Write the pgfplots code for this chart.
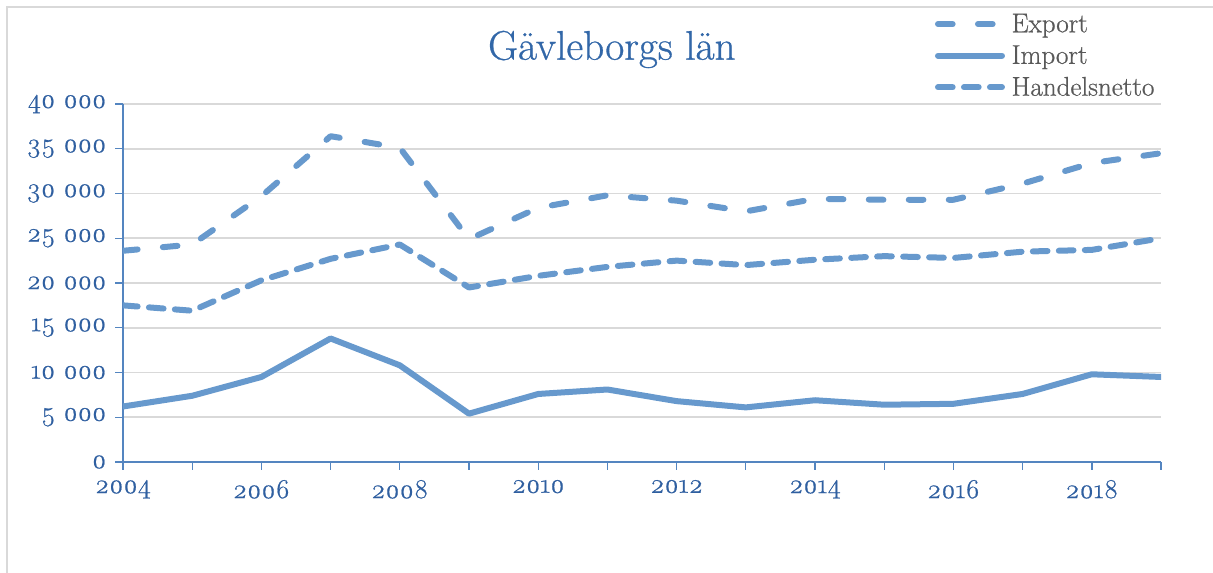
\documentclass[border=0pt]{standalone}
\usepackage{fontspec}
\setmainfont{Latin Modern Roman}[Numbers=OldStyle, FakeBold=0.7]
\usepackage{pgfplots}
\pgfplotsset{compat=1.18}
\definecolor{lineblue}{RGB}{103,153,205}
\definecolor{axisblue}{RGB}{84,133,192}
\definecolor{tickblue}{RGB}{47,95,160}
\definecolor{titleblue}{RGB}{50,103,168}
\definecolor{gridgray}{RGB}{217,217,217}
\definecolor{leggray}{RGB}{89,89,89}
\pgfplotstableread{
year export import netto
2004 23600 6200 17500
2005 24300 7400 16900
2006 29700 9500 20300
2007 36400 13800 22700
2008 35100 10800 24300
2009 24900 5400 19500
2010 28400 7600 20800
2011 29800 8100 21800
2012 29200 6800 22500
2013 28000 6100 22000
2014 29400 6900 22600
2015 29300 6400 23000
2016 29300 6500 22800
2017 31100 7600 23500
2018 33400 9800 23700
2019 34500 9500 25000
}\datatable
\begin{document}
\begin{tikzpicture}
\useasboundingbox (-92.25pt,-83.25pt) rectangle (817.5pt,346.5pt);
\draw[gridgray, line width=1.2pt] (-87pt,-83.25pt) -- (-87pt,341.25pt) -- (817.5pt,341.25pt);
\begin{axis}[
  at={(0pt,0pt)}, anchor=south west,
  scale only axis, width=778.5pt, height=268.5pt,
  xmin=2004, xmax=2019, ymin=0, ymax=40000,
  xtick={2004,2006,...,2018},
  minor xtick={2005,2007,...,2019},
  ytick={0,5000,...,40000},
  axis x line*=bottom, axis y line*=left,
  x axis line style={-, axisblue, line width=1.6pt},
  y axis line style={-, axisblue, line width=1pt},
  ymajorgrids, major grid style={gridgray, line width=1.2pt},
  tick align=outside, major tick length=6pt, minor tick length=6pt,
  every tick/.style={axisblue, line width=1pt},
  minor tick style={axisblue, line width=1pt},
  scaled y ticks=false,
  /pgf/number format/assume math mode=true,
  x tick label style={/pgf/number format/1000 sep={}, yshift=-4pt},
  y tick label style={/pgf/number format/.cd, fixed, precision=0, 1000 sep={\ }, /tikz/xshift=-3pt},
  tick label style={font=\fontsize{20.5}{24}\selectfont, text=tickblue},
  title={Gävleborgs län},
  title style={at={(0.471,1.13)}, anchor=center, font=\fontsize{31}{34}\selectfont, text=titleblue},
  legend style={at={(0.782,1.26)}, anchor=north west, draw=none, fill=none,
    font=\fontsize{20.3}{23}\selectfont, text=leggray, inner sep=0pt, row sep=4.3pt},
  legend cell align=left,
  legend image code/.code={\draw[#1] (0pt,0pt) -- (48pt,0pt); \path (51pt,0pt);},
  every axis plot/.append style={lineblue, line width=4.5pt, line cap=round, line join=round},
]
\addplot[dash pattern=on 11pt off 19pt] table[x=year, y=export] {\datatable};
\addlegendentry{Export}
\addplot[solid] table[x=year, y=import] {\datatable};
\addlegendentry{Import}
\addplot[dash pattern=on 11pt off 8.5pt] table[x=year, y=netto] {\datatable};
\addlegendentry{Handelsnetto}
\end{axis}
\end{tikzpicture}
\end{document}
